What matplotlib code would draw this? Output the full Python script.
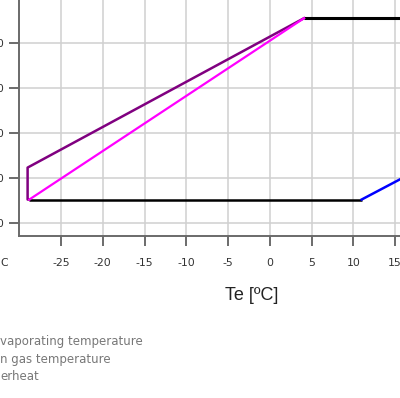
import matplotlib
matplotlib.use("Agg")
import matplotlib.pyplot as plt

plt.rcParams['axes.unicode_minus'] = False

# Envelope (Te in degC, y in degC)
bottom_x = [-28.8, 11.0]
bottom_y = [25.2, 25.2]
top_x = [4.1, 20.0]
top_y = [65.5, 65.5]
blue_x = [11.0, 20.0]
blue_y = [25.2, 34.0]
magenta_x = [-28.8, 4.1]
magenta_y = [25.2, 65.5]
purple_x = [-28.8, -29.0, -29.0, 4.1]
purple_y = [25.2, 25.2, 32.3, 65.5]

x_ticks = [-25, -20, -15, -10, -5, 0, 5, 10, 15]
y_ticks = [20, 30, 40, 50, 60]
legend_texts = ["vaporating temperature", "n gas temperature", "erheat"]

W, H = 400, 398
fig = plt.figure(figsize=(W / 100, H / 100), dpi=100)

# axes placed so the visible crop matches the reference
px_x = 8.35   # pixels per degree on x
px_y = 4.5    # pixels per degree on y
xmin, xmax = -30, 20
ymin, ymax = 17.1, 72
left = 19.25 / W
bottom = (H - 236) / H
ax = fig.add_axes([left, bottom, (xmax - xmin) * px_x / W, (ymax - ymin) * px_y / H])
ax.set_xlim(xmin, xmax)
ax.set_ylim(ymin, ymax)

ax.plot(bottom_x, bottom_y, color='black', lw=1.8, solid_capstyle='butt', zorder=3)
ax.plot(top_x, top_y, color='black', lw=2.2, solid_capstyle='butt', zorder=3)
ax.plot(blue_x, blue_y, color='#0000ff', lw=1.8, zorder=3)
ax.plot(magenta_x, magenta_y, color='#ff00ff', lw=1.6, zorder=4)
ax.plot(purple_x, purple_y, color='#800080', lw=1.8, zorder=3)

ax.set_xticks(x_ticks)
ax.set_yticks(y_ticks)
ax.grid(True, color='#d0d0d0', lw=1.1)
ax.set_axisbelow(True)

for s in ['top', 'right']:
    ax.spines[s].set_visible(False)
for s in ['left', 'bottom']:
    ax.spines[s].set_color('#6a6a6a')
    ax.spines[s].set_linewidth(1.4)

ax.tick_params(axis='x', length=7, width=1.1, color='#444444', pad=9,
               labelsize=7.8, labelcolor='#333333')
ax.tick_params(axis='y', length=7.5, width=1.1, color='#444444', pad=3.5,
               labelsize=7.8, labelcolor='#333333')

def ftext(x, y, s, **kw):
    fig.text(x / W, 1 - y / H, s, **kw)

ftext(0, 263, "C", fontsize=7.8, color='#333333', va='center', ha='left')
ftext(252, 295, "Te [ºC]", fontsize=13, family='Liberation Sans',
      color='#222222', va='center', ha='center')
for txt, yy in zip(legend_texts, [342, 360, 377]):
    ftext(0, yy, txt, fontsize=8.5, color='#777777', va='center', ha='left')

fig.savefig('out.png', dpi=100)
